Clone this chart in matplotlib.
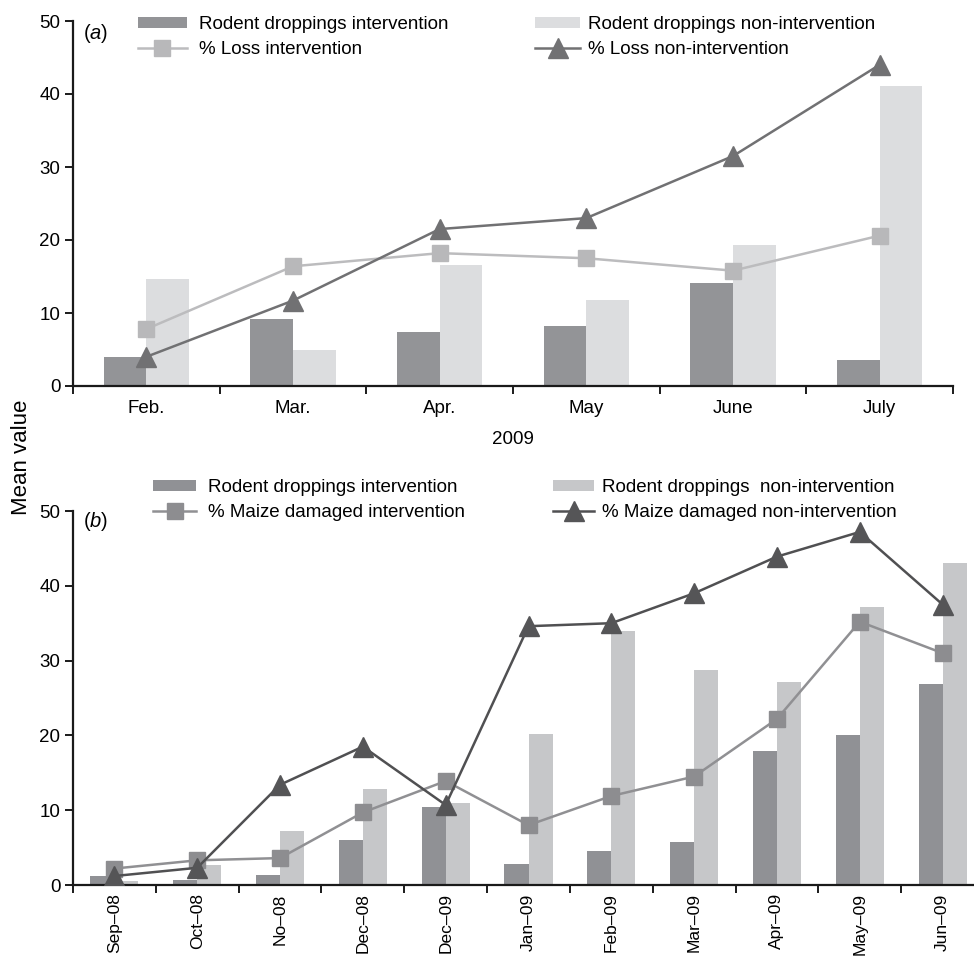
import matplotlib
matplotlib.use("Agg")
import matplotlib.pyplot as plt
import numpy as np

plt.rcParams['font.family'] = ['Liberation Sans', 'DejaVu Sans']
plt.rcParams['mathtext.fontset'] = 'custom'
plt.rcParams['mathtext.it'] = 'Liberation Sans:italic'
plt.rcParams['mathtext.rm'] = 'Liberation Sans'

# panel (a): 2009 monthly means
months_a = ['Feb.', 'Mar.', 'Apr.', 'May', 'June', 'July']
drop_int_a = [4.0, 9.2, 7.4, 8.2, 14.1, 3.6]
drop_non_a = [14.7, 4.9, 16.6, 11.8, 19.3, 41.1]
loss_int_a = [7.8, 16.4, 18.2, 17.5, 15.8, 20.6]
loss_non_a = [4.0, 11.7, 21.5, 23.0, 31.5, 44.0]

# panel (b): Sep 2008 - Jun 2009
months_b = ['Sep–08', 'Oct–08', 'No–08', 'Dec–08', 'Dec–09', 'Jan–09',
            'Feb–09', 'Mar–09', 'Apr–09', 'May–09', 'Jun–09']
drop_int_b = [1.2, 0.7, 1.3, 6.0, 10.4, 2.8, 4.5, 5.7, 17.9, 20.0, 26.9]
drop_non_b = [0.5, 2.7, 7.2, 12.8, 10.9, 20.2, 34.0, 28.7, 27.1, 37.1, 43.1]
maize_int_b = [2.2, 3.3, 3.6, 9.7, 13.9, 8.0, 11.9, 14.5, 22.2, 35.2, 31.0]
maize_non_b = [1.2, 2.3, 13.4, 18.5, 10.7, 34.6, 35.0, 39.0, 43.9, 47.2, 37.5]

W, H = 974, 958
FS = 13.5
fig = plt.figure(figsize=(W / 100, H / 100), dpi=100)


def px_axes(left, top, right, bottom):
    return fig.add_axes([left / W, 1 - bottom / H, (right - left) / W, (bottom - top) / H])


def style_axes(ax, n):
    for s in ['top', 'right']:
        ax.spines[s].set_visible(False)
    for s in ['left', 'bottom']:
        ax.spines[s].set_linewidth(1.6)
        ax.spines[s].set_color('#1a1a1a')
    ax.set_xlim(-0.5, n - 0.5)
    ax.set_ylim(0, 50)
    ax.set_yticks(range(0, 51, 10))
    ax.set_xticks(np.arange(n + 1) - 0.5)
    ax.set_xticklabels([])
    ax.set_xticks(np.arange(n), minor=True)
    ax.tick_params(axis='both', which='major', direction='out', length=6, width=1.4,
                   labelsize=FS, color='#1a1a1a', pad=3)
    ax.tick_params(axis='x', which='minor', length=0, labelsize=FS)


def two_rows(handles, labels, x, y, **kw):
    opts = dict(loc='upper left', frameon=False, fontsize=FS, borderaxespad=0, borderpad=0,
                handleheight=0.5, labelspacing=0.45)
    opts.update(kw)
    return fig.legend(handles, labels, bbox_to_anchor=(x / W, 1 - y / H), **opts)


w = 0.29

# ---- (a)
ax1 = px_axes(73, 21, 953, 386)
x = np.arange(len(months_a))
b1 = ax1.bar(x - w / 2, drop_int_a, w, color='#939497', zorder=1)
b2 = ax1.bar(x + w / 2, drop_non_a, w, color='#dcdddf', zorder=1)
l1, = ax1.plot(x, loss_int_a, color='#bcbcbe', lw=1.8, marker='s', ms=12, mfc='#b8b8ba',
               mec='#b8b8ba', zorder=3)
l2, = ax1.plot(x, loss_non_a, color='#717173', lw=1.8, marker='^', ms=14, mfc='#717173',
               mec='#717173', zorder=4)
style_axes(ax1, len(months_a))
ax1.set_xticklabels(months_a, minor=True)
ax1.tick_params(axis='x', which='minor', pad=10)
ax1.set_xlabel('2009', fontsize=FS, labelpad=10)
ax1.text(0.011, 0.998, r'($\it{a}$)', transform=ax1.transAxes, fontsize=14.5, va='top')

two_rows([b1, l1], ['Rodent droppings intervention', '% Loss intervention'], 138, 16,
         handlelength=2.6, handletextpad=0.65)
two_rows([b2, l2], ['Rodent droppings non-intervention', '% Loss non-intervention'], 535, 16,
         handlelength=2.4, handletextpad=0.45)

# ---- (b)
ax2 = px_axes(73, 511, 984, 885)
x = np.arange(len(months_b))
b3 = ax2.bar(x - w / 2, drop_int_b, w, color='#909195', zorder=1)
b4 = ax2.bar(x + w / 2, drop_non_b, w, color='#c6c7c9', zorder=1)
l3, = ax2.plot(x, maize_int_b, color='#909093', lw=1.8, marker='s', ms=12, mfc='#8d8d90',
               mec='#8d8d90', zorder=3)
l4, = ax2.plot(x, maize_non_b, color='#505052', lw=1.8, marker='^', ms=14, mfc='#555557',
               mec='#555557', zorder=4)
style_axes(ax2, len(months_b))
ax2.set_xticklabels(months_b, minor=True, rotation=90)
ax2.tick_params(axis='x', which='minor', pad=6, labelsize=12.5)
ax2.text(0.011, 1.004, r'($\it{b}$)', transform=ax2.transAxes, fontsize=14.5, va='top')

two_rows([b3, l3], ['Rodent droppings intervention', '% Maize damaged intervention'], 153, 479,
         handlelength=2.3, handletextpad=0.65)
two_rows([b4, l4], ['Rodent droppings  non-intervention', '% Maize damaged non-intervention'],
         553, 479, handlelength=2.2, handletextpad=0.4)

fig.text(22 / W, 1 - 457 / H, 'Mean value', rotation=90, va='center', ha='center', fontsize=16)

fig.savefig('out.png', dpi=100)
